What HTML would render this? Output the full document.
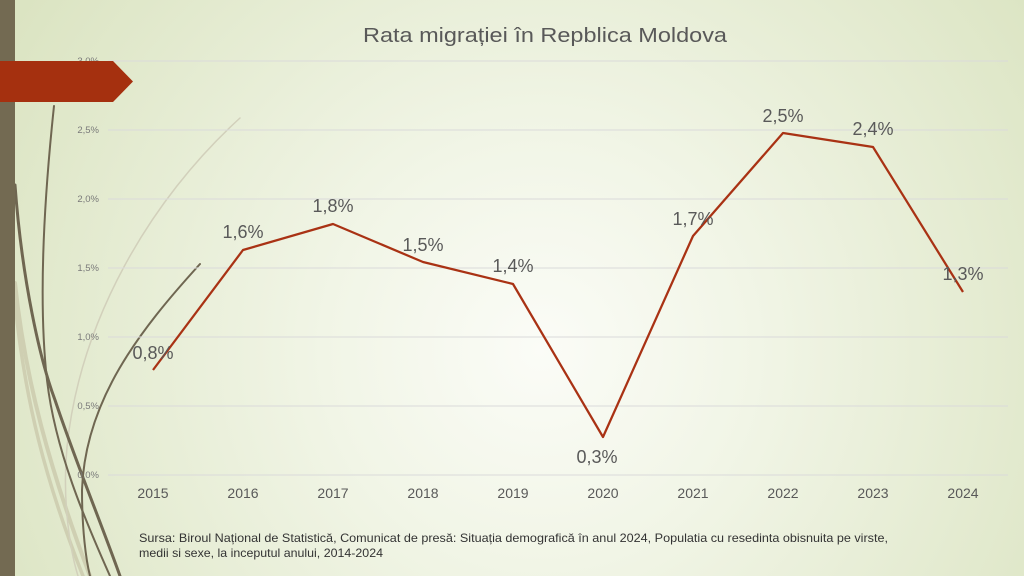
<!DOCTYPE html>
<html>
<head>
<meta charset="utf-8">
<style>
  html,body{margin:0;padding:0;width:1024px;height:576px;overflow:hidden;}
  svg{display:block;}
  text{font-family:"Liberation Sans","DejaVu Sans",sans-serif;}
</style>
</head>
<body>
<svg width="1024" height="576" viewBox="0 0 1024 576" xmlns="http://www.w3.org/2000/svg">
  <defs>
    <radialGradient id="bg" cx="540" cy="350" r="620" gradientUnits="userSpaceOnUse">
      <stop offset="0" stop-color="#fbfcf7"/>
      <stop offset="0.35" stop-color="#f1f5e6"/>
      <stop offset="1" stop-color="#dbe4c2"/>
    </radialGradient>
  </defs>
  <rect x="0" y="0" width="1024" height="576" fill="url(#bg)"/>

  <!-- decorative curves -->
  <g fill="none" stroke-linecap="round">
    <path d="M15,283 C25,380 50,470 90,576" stroke="#cfcfb2" stroke-width="4"/>
    <path d="M15,303 C25,400 45,480 83,576" stroke="#cfcfb2" stroke-width="3.5"/>
    <path d="M240,118 C150,200 80,320 67,447 C62,500 70,550 78,576" stroke="#d2d0bb" stroke-width="1.5"/>
    <path d="M54,106 C44,200 38,300 47,380 C55,450 85,520 110,576" stroke="#6f6651" stroke-width="2"/>
    <path d="M15,185 C22,280 40,360 55,400 C75,460 100,520 120,576" stroke="#6f6651" stroke-width="3"/>
    <path d="M200,264 C140,330 85,400 82,490 C82,530 86,560 90,576" stroke="#6f6651" stroke-width="2"/>
  </g>

  <!-- left bar -->
  <rect x="0" y="0" width="15" height="576" fill="#736a52"/>

  <!-- gridlines -->
  <g stroke="#dadada" stroke-width="1">
    <line x1="108" y1="61" x2="1008" y2="61"/>
    <line x1="108" y1="130" x2="1008" y2="130"/>
    <line x1="108" y1="199" x2="1008" y2="199"/>
    <line x1="108" y1="268" x2="1008" y2="268"/>
    <line x1="108" y1="337" x2="1008" y2="337"/>
    <line x1="108" y1="406" x2="1008" y2="406"/>
    <line x1="108" y1="475" x2="1008" y2="475"/>
  </g>

  <!-- y axis labels -->
  <g font-size="9.5" fill="#7a7a7a" text-anchor="end">
    <text x="99" y="64">3,0%</text>
    <text x="99" y="133">2,5%</text>
    <text x="99" y="202">2,0%</text>
    <text x="99" y="271">1,5%</text>
    <text x="99" y="340">1,0%</text>
    <text x="99" y="409">0,5%</text>
    <text x="99" y="478">0,0%</text>
  </g>

  <!-- red banner -->
  <polygon points="0,61 113,61 133,81.5 113,102 0,102" fill="#a5300f"/>

  <!-- title -->
  <text x="363" y="42" font-size="20" fill="#595959" textLength="364" lengthAdjust="spacingAndGlyphs">Rata migrației în Repblica Moldova</text>

  <!-- x axis labels -->
  <g font-size="14" fill="#595959" text-anchor="middle">
    <text x="153" y="498">2015</text>
    <text x="243" y="498">2016</text>
    <text x="333" y="498">2017</text>
    <text x="423" y="498">2018</text>
    <text x="513" y="498">2019</text>
    <text x="603" y="498">2020</text>
    <text x="693" y="498">2021</text>
    <text x="783" y="498">2022</text>
    <text x="873" y="498">2023</text>
    <text x="963" y="498">2024</text>
  </g>

  <!-- data line -->
  <polyline fill="none" stroke="#a93214" stroke-width="2.25" stroke-linejoin="round"
    points="153,370 243,250 333,224 423,262 513,284 603,437 693,236 783,133 873,147 963,292"/>

  <!-- data labels -->
  <g font-size="18" fill="#595959" text-anchor="middle">
    <text x="153" y="359">0,8%</text>
    <text x="243" y="238">1,6%</text>
    <text x="333" y="212">1,8%</text>
    <text x="423" y="251">1,5%</text>
    <text x="513" y="272">1,4%</text>
    <text x="597" y="463">0,3%</text>
    <text x="693" y="225">1,7%</text>
    <text x="783" y="122">2,5%</text>
    <text x="873" y="135">2,4%</text>
    <text x="963" y="280">1,3%</text>
  </g>

  <!-- source -->
  <g font-size="12" fill="#333333">
    <text x="139" y="542" textLength="749" lengthAdjust="spacingAndGlyphs">Sursa: Biroul Național de Statistică, Comunicat de presă: Situația demografică în anul 2024, Populatia cu resedinta obisnuita pe virste,</text>
    <text x="139" y="557" textLength="244" lengthAdjust="spacingAndGlyphs">medii si sexe, la inceputul anului, 2014-2024</text>
  </g>
</svg>
</body>
</html>
